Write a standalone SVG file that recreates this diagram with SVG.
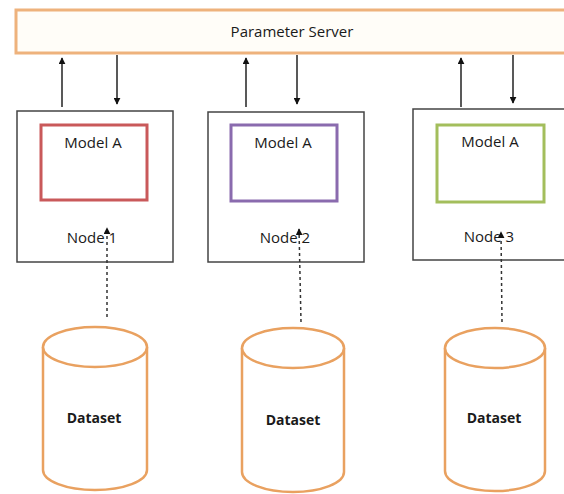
<svg xmlns="http://www.w3.org/2000/svg" width="564" height="494" viewBox="0 0 564 494">
<defs>
<style>
.t{font-family:"Open Sans","Liberation Sans",sans-serif;fill:#1a1a1a;text-anchor:middle}
.node{fill:#fff;stroke:#444;stroke-width:1.5}
.model{fill:#fff;stroke-width:3}
.cyl{fill:#fff;stroke:#E9A160;stroke-width:2.5}
.arr{stroke:#222;stroke-width:1.5;fill:none}
.dot{stroke:#333;stroke-width:1.5;stroke-dasharray:3 3;fill:none}
</style>
<marker id="ah" viewBox="0 0 10 10" refX="9" refY="5" markerWidth="7" markerHeight="7" orient="auto" markerUnits="userSpaceOnUse">
<path d="M0,0 L10,5 L0,10 z" fill="#111"/>
</marker>
</defs>
<rect width="564" height="494" fill="#fff"/>
<g id="server">
<rect x="16" y="10" width="560" height="43" fill="#FFFDF8" stroke="#EEB27C" stroke-width="3"/>
<text class="t" x="292" y="37" font-size="15">Parameter Server</text>
</g>
<g id="node1">
<rect class="node" x="17" y="111" width="156" height="151"/>
<rect class="model" x="41" y="125" width="106" height="75" stroke="#C9595A"/>
<text class="t" x="93" y="148" font-size="15">Model A</text>
<text class="t" x="92" y="243" font-size="15">Node 1</text>
</g>
<g id="node2">
<rect class="node" x="208" y="112" width="156" height="150"/>
<rect class="model" x="231" y="125" width="106" height="76" stroke="#8A6BAE"/>
<text class="t" x="283" y="148" font-size="15">Model A</text>
<text class="t" x="285" y="243" font-size="15">Node 2</text>
</g>
<g id="node3">
<rect class="node" x="413" y="109" width="160" height="151"/>
<rect class="model" x="437" y="125" width="107" height="77" stroke="#A3BE5C"/>
<text class="t" x="490" y="147" font-size="15">Model A</text>
<text class="t" x="489" y="242" font-size="15">Node 3</text>
</g>
<g id="dataset1">
<path class="cyl" d="M43,347 L43,470 A52,20 0 0 0 147,470 L147,347"/>
<ellipse class="cyl" cx="95" cy="347" rx="52" ry="20"/>
<text class="t" x="94" y="423" font-size="14" font-weight="bold">Dataset</text>
</g>
<g id="dataset2">
<path class="cyl" d="M242,348 L242,472 A51,20 0 0 0 344,472 L344,348"/>
<ellipse class="cyl" cx="293" cy="348" rx="51" ry="20"/>
<text class="t" x="293" y="425" font-size="14" font-weight="bold">Dataset</text>
</g>
<g id="dataset3">
<path class="cyl" d="M445,348 L445,471 A50,20 0 0 0 545,471 L545,348"/>
<ellipse class="cyl" cx="495" cy="348" rx="50" ry="20"/>
<text class="t" x="494" y="423" font-size="14" font-weight="bold">Dataset</text>
</g>
<g id="connectors">
<line class="arr" x1="62" y1="107" x2="62" y2="58" marker-end="url(#ah)"/>
<line class="arr" x1="117" y1="55" x2="117" y2="104" marker-end="url(#ah)"/>
<line class="arr" x1="246" y1="107" x2="246" y2="58" marker-end="url(#ah)"/>
<line class="arr" x1="297" y1="55" x2="297" y2="104" marker-end="url(#ah)"/>
<line class="arr" x1="461" y1="107" x2="461" y2="58" marker-end="url(#ah)"/>
<line class="arr" x1="513" y1="55" x2="513" y2="103" marker-end="url(#ah)"/>
<line class="dot" x1="107" y1="317" x2="107" y2="228" marker-end="url(#ah)"/>
<line class="dot" x1="301" y1="322" x2="299" y2="229" marker-end="url(#ah)"/>
<line class="dot" x1="502" y1="322" x2="501" y2="232" marker-end="url(#ah)"/>
</g>
</svg>
